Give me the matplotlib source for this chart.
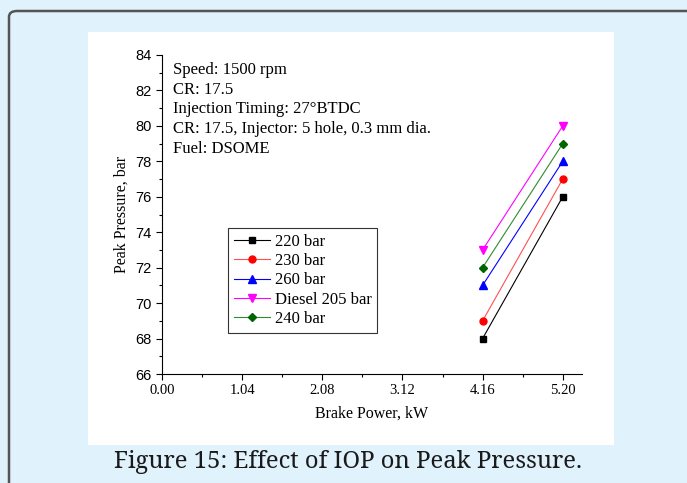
import matplotlib
matplotlib.use('Agg')
import matplotlib.pyplot as plt
from matplotlib.patches import FancyBboxPatch, Rectangle
from matplotlib.ticker import MultipleLocator, FixedLocator

plt.rcParams['font.family'] = ['Liberation Serif', 'DejaVu Serif']

# data
brake_power = [4.16, 5.20]
p_220 = [68, 76]
p_230 = [69, 77]
p_260 = [71, 78]
p_diesel = [73, 80]
p_240 = [72, 79]
x_ticks = [0.00, 1.04, 2.08, 3.12, 4.16, 5.20]
conditions = ["Speed: 1500 rpm", "CR: 17.5", "Injection Timing: 27\u00b0BTDC",
              "CR: 17.5, Injector: 5 hole, 0.3 mm dia.", "Fuel: DSOME"]

fig = plt.figure(figsize=(6.87, 4.83), dpi=100)
fig.patch.set_facecolor('#e0f2fc')

# outer frame and white panel (drawn below the axes)
frame = FancyBboxPatch((9 / 687, -0.1), 1.2, 1.1 - 11 / 483,
                       boxstyle="round,pad=0,rounding_size=0.012",
                       transform=fig.transFigure, facecolor='#e0f2fc',
                       edgecolor='#555555', linewidth=1.8, zorder=-2)
fig.patches.append(frame)
panel = Rectangle((88 / 687, 1 - 445 / 483), (614 - 88) / 687, (445 - 32) / 483,
                  transform=fig.transFigure, facecolor='white', edgecolor='none', zorder=-1)
fig.patches.append(panel)

fig.text(348 / 687, 1 - 462 / 483, "Figure 15: Effect of IOP on Peak Pressure.",
         ha='center', va='center', fontsize=17.2, family=['Noto Serif', 'DejaVu Serif'],
         color='#1a1a1a')

ax = fig.add_axes([162 / 687, 1 - 374 / 483, (582 - 162) / 687, (374 - 55) / 483])
ax.set_facecolor('none')

ax.plot(brake_power, p_220, color='black', marker='s', markersize=4.5, lw=0.8, label='220 bar')
ax.plot(brake_power, p_230, color='#ff5050', marker='o', markersize=5, mfc='red', mec='red',
        lw=0.8, label='230 bar')
ax.plot(brake_power, p_260, color='blue', marker='^', markersize=5.5, lw=0.8, label='260 bar')
ax.plot(brake_power, p_diesel, color='magenta', marker='v', markersize=5.5, lw=0.8,
        label='Diesel 205 bar')
ax.plot(brake_power, p_240, color='#2e8b2e', marker='D', markersize=4.5, mfc='#006400',
        mec='#006400', lw=0.8, label='240 bar')

ax.set_xlim(0, 5.45)
ax.set_ylim(66, 84)
ax.xaxis.set_major_locator(FixedLocator(x_ticks))
ax.xaxis.set_minor_locator(FixedLocator([0.52, 1.56, 2.60, 3.64, 4.68]))
ax.set_xticklabels([f"{v:.2f}" for v in x_ticks])
ax.yaxis.set_major_locator(MultipleLocator(2))
ax.yaxis.set_minor_locator(MultipleLocator(1))
ax.tick_params(which='major', direction='out', length=4, width=0.8, labelsize=10.5)
ax.tick_params(which='minor', direction='out', length=2.5, width=0.8)
for lab in ax.get_yticklabels():
    lab.set_family(['Liberation Sans Narrow', 'Liberation Sans', 'DejaVu Sans'])
ax.spines['top'].set_visible(False)
ax.spines['right'].set_visible(False)

ax.set_xlabel('Brake Power, kW', fontsize=11.5, labelpad=6)
ax.set_ylabel('Peak Pressure, bar', fontsize=11.5, labelpad=4)

ax.text(0.026, 0.978, "\n".join(conditions), transform=ax.transAxes, va='top', ha='left',
        fontsize=12, linespacing=1.31)

leg = ax.legend(loc='upper left', bbox_to_anchor=(0.157, 0.458), fontsize=12,
                frameon=True, fancybox=False, edgecolor='black', handlelength=2.2,
                handletextpad=0.25, borderpad=0.35, labelspacing=0.2, borderaxespad=0)
leg.get_frame().set_linewidth(0.8)

fig.savefig('out.png', dpi=100, facecolor=fig.get_facecolor())
